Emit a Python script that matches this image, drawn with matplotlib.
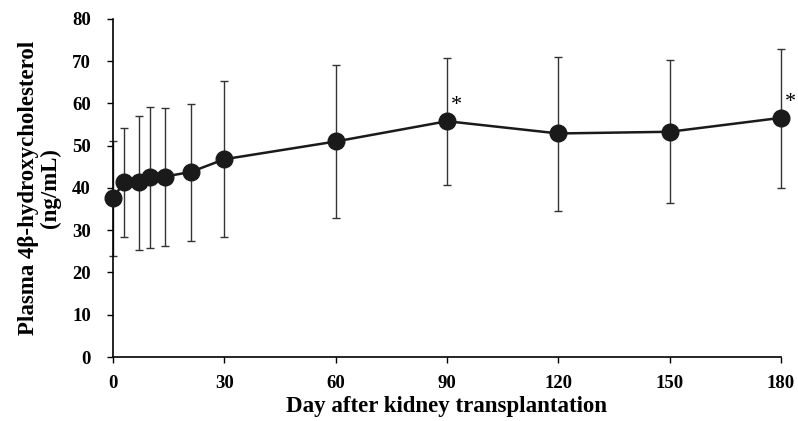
import numpy as np
import matplotlib
matplotlib.use('agg')
import matplotlib.pyplot as plt

plt.rcParams['font.family'] = ['Liberation Serif', 'DejaVu Serif']
plt.rcParams['font.weight'] = 'bold'

# days after transplantation, mean and error-bar ends (ng/mL)
days = [0, 3, 7, 10, 14, 21, 30, 60, 90, 120, 150, 180]
mean = [37.6, 41.4, 41.3, 42.5, 42.7, 43.8, 46.8, 51.0, 55.8, 52.9, 53.3, 56.6]
upper = [51.0, 54.3, 57.0, 59.1, 58.9, 59.8, 65.3, 69.2, 70.8, 71.1, 70.2, 72.9]
lower = [23.9, 28.3, 25.4, 25.7, 26.3, 27.5, 28.4, 32.9, 40.8, 34.6, 36.5, 40.1]
signif_days = [90, 180]

x_ticks = [0, 30, 60, 90, 120, 150, 180]
y_ticks = [0, 10, 20, 30, 40, 50, 60, 70, 80]

fig = plt.figure(figsize=(7.98, 4.21), dpi=100)
ax = fig.add_axes([0.1416, 0.152, 0.8371, 0.803])

mean_a = np.array(mean)
yerr = [mean_a - np.array(lower), np.array(upper) - mean_a]

ax.errorbar(days, mean, yerr=yerr, fmt='none', ecolor='#333333', elinewidth=1.0,
            capsize=3, capthick=1.0, clip_on=False, zorder=2)
ax.plot(days, mean, color='#1a1a1a', lw=1.8, marker='o', markersize=12,
        markerfacecolor='#1a1a1a', markeredgecolor='#1a1a1a', clip_on=False, zorder=3)

# significance marks
for d in signif_days:
    i = days.index(d)
    ax.text(d + 2.6, mean[i] + 3.6, '*', fontsize=16, fontweight='normal',
            ha='center', va='center')

ax.set_xlim(0, 180)
ax.set_ylim(0, 80)
ax.set_xticks(x_ticks)
ax.set_yticks(y_ticks)
ax.tick_params(axis='both', direction='out', length=4, width=1, labelsize=13.5)
ax.tick_params(axis='y', pad=12)
ax.tick_params(axis='x', pad=9)
for lab in ax.get_xticklabels() + ax.get_yticklabels():
    lab.set_fontweight('bold')

ax.spines['top'].set_visible(False)
ax.spines['right'].set_visible(False)
ax.spines['left'].set_linewidth(1.2)
ax.spines['bottom'].set_linewidth(1.2)

ax.set_xlabel('Day after kidney transplantation', fontsize=16.5, fontweight='bold', labelpad=3)
ax.set_ylabel('Plasma 4\u03b2-hydroxycholesterol\n(ng/mL)', fontsize=16.5,
              fontweight='bold', linespacing=1.05, labelpad=8)

plt.savefig('out.png', dpi=100)
plt.close()
